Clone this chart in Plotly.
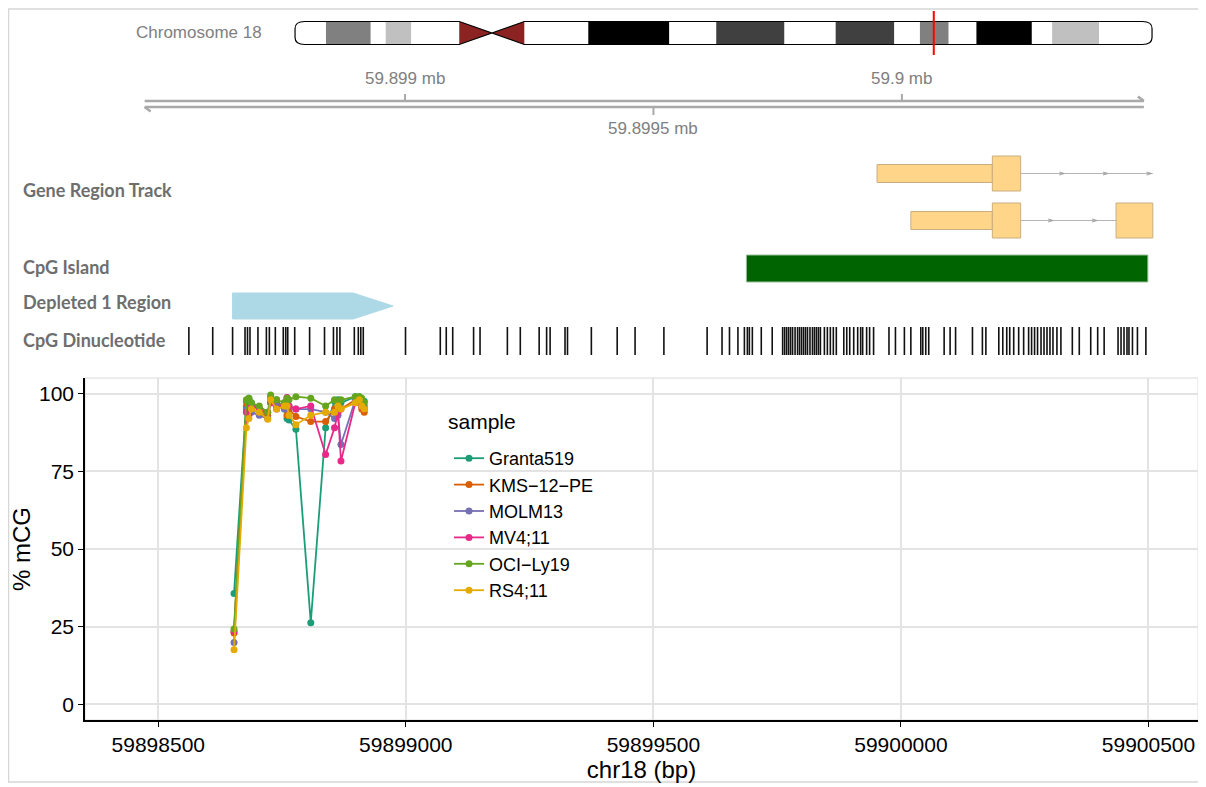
import plotly.graph_objects as go

# ---------------- methylation data ----------------
samples = ["Granta519", "KMS\u221212\u2212PE", "MOLM13", "MV4;11", "OCI\u2212Ly19", "RS4;11"]
sample_colors = ["#1B9E77", "#D95F02", "#7570B3", "#E7298A", "#66A61E", "#E6AB02"]

cpg_sites = [59898653, 59898678, 59898683, 59898688, 59898704, 59898721, 59898727,
             59898739, 59898755, 59898760, 59898764, 59898778, 59898808, 59898838,
             59898856, 59898863, 59898869, 59898898, 59898906, 59898911, 59898916]

granta519 = [35.7, 97.5, 98.5, 97.0, 95.0, 93.0, 99.0, 98.0, 95.0, 92.0, 91.5, 88.5, 26.3, 89.0,
             97.5, 98.0, 97.0, 99.0, 99.0, 98.0, 97.5]
kms12pe = [23.0, 96.0, 97.0, 95.0, 94.0, 92.5, 98.0, 96.0, 97.0, 93.0, 95.0, 92.6, 91.0, 91.0,
           95.0, 96.0, 95.0, 98.0, 97.0, 95.0, 94.0]
molm13 = [19.9, 95.0, 96.0, 94.0, 93.0, 92.0, 97.0, 96.0, 95.0, 97.0, 96.0, 95.0, 95.0, 94.0,
          92.0, 93.0, 83.6, 98.0, 97.0, 96.0, 96.0]
mv411 = [23.5, 94.0, 93.0, 96.0, 95.0, 94.0, 97.0, 95.0, 97.0, 98.7, 96.0, 95.0, 96.0, 80.4,
         89.0, 94.0, 78.3, 97.0, 98.0, 96.0, 95.0]
ocily19 = [24.3, 98.0, 98.5, 97.0, 96.0, 94.0, 99.5, 98.0, 97.0, 98.5, 98.0, 99.0, 98.5, 96.0,
           98.0, 97.0, 98.0, 99.0, 99.0, 98.5, 97.0]
rs411 = [17.6, 89.0, 92.0, 95.0, 94.0, 91.7, 98.0, 95.0, 96.0, 96.0, 93.0, 90.0, 93.0, 94.0,
         94.0, 96.0, 95.0, 97.0, 98.0, 96.0, 95.0]
series_values = [granta519, kms12pe, molm13, mv411, ocily19, rs411]

x_ticks = [59898500, 59899000, 59899500, 59900000, 59900500]
y_ticks = [0, 25, 50, 75, 100]

# ---------------- track data ----------------
gviz_axis_span = [59898476, 59900487]
gviz_ticks = [59899000, 59899500, 59900000]
gviz_tick_labels = ["59.899 mb", "59.8995 mb", "59.9 mb"]

tx1_exon_start = [59899950, 59900182]
tx1_exon_end = [59900182, 59900239]
tx1_exon_kind = ["utr", "cds"]
tx1_span = [59899950, 59900505]
tx2_exon_start = [59900018, 59900182, 59900431]
tx2_exon_end = [59900182, 59900239, 59900505]
tx2_exon_kind = ["utr", "cds", "cds"]
tx2_span = [59900018, 59900505]

cpg_island = [59899687, 59900495]
depleted_region = [59898653, 59898976]

cpg_dinucleotides = [
    59898565, 59898613, 59898653, 59898678, 59898683, 59898688, 59898704, 59898721,
    59898727, 59898739, 59898755, 59898760, 59898764, 59898778, 59898808, 59898838,
    59898856, 59898863, 59898869, 59898898, 59898906, 59898911, 59898916, 59899001,
    59899071, 59899083, 59899096, 59899138, 59899151, 59899206, 59899232, 59899270,
    59899285, 59899292, 59899322, 59899327, 59899375, 59899427, 59899463, 59899521,
    59899608, 59899638, 59899653, 59899670, 59899683, 59899689, 59899693, 59899699,
    59899717, 59899739, 59899760, 59899764, 59899768, 59899772, 59899776, 59899780,
    59899785, 59899790, 59899794, 59899798, 59899802, 59899806, 59899810, 59899815,
    59899820, 59899824, 59899828, 59899832, 59899836, 59899844, 59899850, 59899856,
    59899862, 59899868, 59899883, 59899889, 59899895, 59899903, 59899911, 59899917,
    59899921, 59899929, 59899935, 59899943, 59899974, 59899987, 59900005, 59900018,
    59900038, 59900042, 59900048, 59900054, 59900085, 59900097, 59900108, 59900142,
    59900162, 59900169, 59900195, 59900203, 59900211, 59900217, 59900225, 59900235,
    59900245, 59900255, 59900261, 59900267, 59900273, 59900280, 59900286, 59900292,
    59900298, 59900304, 59900312, 59900320, 59900343, 59900357, 59900380, 59900394,
    59900407, 59900435, 59900441, 59900447, 59900453, 59900457, 59900464, 59900474,
    59900491]

band_start = [0.0, 2.9, 7.1, 8.5, 10.9, 15.4, 18.5, 21.5, 27.5, 35.1, 39.5, 45.9, 50.7,
              56.2, 58.6, 61.3, 63.9, 69.1, 71.0, 75.4]
band_end = [2.9, 7.1, 8.5, 10.9, 15.4, 18.5, 21.5, 27.5, 35.1, 39.5, 45.9, 50.7, 56.2,
            58.6, 61.3, 63.9, 69.1, 71.0, 75.4, 80.37]
band_stain = ["gneg", "gpos50", "gneg", "gpos25", "gneg", "acen", "acen", "gneg", "gpos100",
              "gneg", "gpos75", "gneg", "gpos75", "gneg", "gpos50", "gneg", "gpos100", "gneg",
              "gpos25", "gneg"]
chrom_length = 80.37
current_region_mb = 59.9

stain_colors = {"gneg": "#FFFFFF", "gpos25": "#C0C0C0", "gpos50": "#808080",
                "gpos75": "#404040", "gpos100": "#000000", "acen": "#8B2323"}

# page is offset by the 8px body margin; figure covers page px 8..1206 / 8..787
OFF = 8
W, H = 1206 - OFF, 787 - OFF
FONT = "Liberation Sans, Arial, sans-serif"
LABEL_FONT = "Lato, Open Sans, sans-serif"


def px(xp):
    return (xp - OFF) / W


def py(yp):
    return 1 - (yp - OFF) / H


fig = go.Figure()

for name, col, vals in zip(samples, sample_colors, series_values):
    fig.add_trace(go.Scatter(
        x=cpg_sites, y=vals, name=name, mode="lines+markers",
        line=dict(color=col, width=1.8), marker=dict(color=col, size=7),
        xaxis="x", yaxis="y"))

shapes = []
annotations = []

# Gviz genome axis
ax0, ax1 = gviz_axis_span
for yy in (101, 107):
    fig.add_trace(go.Scatter(x=[ax0, ax1], y=[yy, yy], mode="lines",
                             line=dict(color="#A9A9A9", width=2.5),
                             xaxis="x2", yaxis="y2", showlegend=False, hoverinfo="skip"))
barb = (ax1 - ax0) * 0.006
fig.add_trace(go.Scatter(x=[ax1 - barb, ax1, None, ax0, ax0 + barb],
                         y=[96.5, 101, None, 107, 111.5], mode="lines",
                         line=dict(color="#A9A9A9", width=2.5),
                         xaxis="x2", yaxis="y2", showlegend=False, hoverinfo="skip"))
tx, ty = [], []
for i, t in enumerate(gviz_ticks):
    if i == 1:
        tx += [t, t, None]
        ty += [107, 115, None]
        annotations.append(dict(x=t, y=128, xref="x2", yref="y2", text=gviz_tick_labels[i],
                                showarrow=False, font=dict(size=17, color="#808080", family=FONT)))
    else:
        tx += [t, t, None]
        ty += [94, 101, None]
        annotations.append(dict(x=t, y=78, xref="x2", yref="y2", text=gviz_tick_labels[i],
                                showarrow=False, font=dict(size=17, color="#808080", family=FONT)))
fig.add_trace(go.Scatter(x=tx, y=ty, mode="lines", line=dict(color="#A9A9A9", width=2),
                         xaxis="x2", yaxis="y2", showlegend=False, hoverinfo="skip"))

# Gene region track
gene_fill = "#FFD58A"
gene_line = "#C9AE80"


def draw_transcript(starts, ends, kinds, span, yc, chevron_fracs):
    shapes.append(dict(type="line", xref="x2", yref="y2", x0=span[0], x1=span[1], y0=yc, y1=yc,
                       line=dict(color="#B5B5B5", width=1), layer="below"))
    intr_start = ends[1]
    intr_end = starts[2] if len(starts) > 2 else span[1]
    chev_x, chev_y = [], []
    for f in chevron_fracs:
        cx = intr_start + (intr_end - intr_start) * f
        chev_x += [cx - 10, cx, cx - 10, None]
        chev_y += [yc - 1.5, yc, yc + 1.5, None]
    fig.add_trace(go.Scatter(x=chev_x, y=chev_y, mode="lines", line=dict(color="#A0A0A0", width=1),
                             xaxis="x2", yaxis="y2", showlegend=False, hoverinfo="skip"))
    for s, e, k in sorted(zip(starts, ends, kinds), key=lambda z: z[2] == "cds"):
        half = 9 if k == "utr" else 17.5
        shapes.append(dict(type="rect", xref="x2", yref="y2", x0=s, x1=e, y0=yc - half, y1=yc + half,
                           fillcolor=gene_fill, line=dict(color=gene_line, width=1)))


draw_transcript(tx1_exon_start, tx1_exon_end, tx1_exon_kind, tx1_span, 173.5, [0.33, 0.66, 0.99])
draw_transcript(tx2_exon_start, tx2_exon_end, tx2_exon_kind, tx2_span, 220.5, [0.34, 0.8])

shapes.append(dict(type="rect", xref="x2", yref="y2", x0=cpg_island[0], x1=cpg_island[1],
                   y0=255, y1=282, fillcolor="#006400", line=dict(color="#9DBF9D", width=1)))

d0, d1 = depleted_region
head = (d1 - d0) * 0.25
fig.add_trace(go.Scatter(x=[d0, d1 - head, d1, d1 - head, d0, d0],
                         y=[293, 293, 306, 319, 319, 293], mode="lines", fill="toself",
                         fillcolor="#ADD8E6", line=dict(color="#ADD8E6", width=1),
                         xaxis="x2", yaxis="y2", showlegend=False, hoverinfo="skip"))

dx, dy = [], []
for p in cpg_dinucleotides:
    dx += [p, p, None]
    dy += [327, 355, None]
fig.add_trace(go.Scatter(x=dx, y=dy, mode="lines", line=dict(color="#111111", width=1.6),
                         xaxis="x2", yaxis="y2", showlegend=False, hoverinfo="skip"))

for txt, yy in [("Gene Region Track", 190), ("CpG Island", 267), ("Depleted 1 Region", 302),
                ("CpG Dinucleotide", 340)]:
    annotations.append(dict(x=px(21), y=yy, xref="paper", yref="y2", text="<b>" + txt + "</b>",
                            showarrow=False, xanchor="left",
                            font=dict(size=18, color="#6E6E6E", family=LABEL_FONT)))

# ideogram
y_top, y_bot = 21.5, 44.5
for s, e, st in zip(band_start, band_end, band_stain):
    if st == "acen":
        continue
    shapes.append(dict(type="rect", xref="x3", yref="y2", x0=s, x1=e, y0=y_top, y1=y_bot,
                       fillcolor=stain_colors[st], line=dict(width=0)))
acen = [(s, e) for s, e, st in zip(band_start, band_end, band_stain) if st == "acen"]
cs, cm, ce = acen[0][0], acen[0][1], acen[1][1]
ymid = (y_top + y_bot) / 2
shapes.append(dict(type="path", xref="x3", yref="y2",
                   path=f"M {cs},{y_top} L {cm},{ymid} L {cs},{y_bot} Z",
                   fillcolor=stain_colors["acen"], line=dict(width=0)))
shapes.append(dict(type="path", xref="x3", yref="y2",
                   path=f"M {ce},{y_top} L {cm},{ymid} L {ce},{y_bot} Z",
                   fillcolor=stain_colors["acen"], line=dict(width=0)))
r = 0.9
ry = 7
outline = (f"M {cs},{y_top} L {r},{y_top} Q 0,{y_top} 0,{y_top + ry} L 0,{y_bot - ry} "
           f"Q 0,{y_bot} {r},{y_bot} L {cs},{y_bot} L {ce},{y_top} "
           f"L {chrom_length - r},{y_top} Q {chrom_length},{y_top} {chrom_length},{y_top + ry} "
           f"L {chrom_length},{y_bot - ry} Q {chrom_length},{y_bot} {chrom_length - r},{y_bot} "
           f"L {ce},{y_bot} L {cs},{y_top}")
shapes.append(dict(type="path", xref="x3", yref="y2", path=outline,
                   line=dict(color="#000000", width=1.2)))
shapes.append(dict(type="line", xref="x3", yref="y2", x0=current_region_mb, x1=current_region_mb,
                   y0=11, y1=55, line=dict(color="#FF0000", width=2)))
annotations.append(dict(x=px(264), y=32, xref="paper", yref="y2", text="Chromosome 18",
                        showarrow=False, xanchor="right",
                        font=dict(size=17, color="#808080", family=FONT)))

# legend title as text
annotations.append(dict(x=px(446), y=py(422), xref="paper", yref="paper", text="sample",
                        showarrow=False, xanchor="left", yanchor="middle",
                        font=dict(size=21, color="black", family=FONT)))

# outer frame and panel border
shapes.append(dict(type="rect", xref="paper", yref="paper", x0=px(8.5), x1=px(1199),
                   y0=py(782), y1=py(9), line=dict(color="#D6D6D6", width=1.5), layer="below"))
shapes.append(dict(type="rect", xref="x domain", yref="y domain", x0=0, x1=1, y0=0, y1=1,
                   line=dict(color="#DADADA", width=1), layer="below"))

fig.update_layout(
    width=W, height=H, margin=dict(l=0, r=0, t=0, b=0),
    paper_bgcolor="white", plot_bgcolor="rgba(0,0,0,0)",
    font=dict(family=FONT, color="black"),
    shapes=shapes, annotations=annotations,
    xaxis=dict(domain=[px(85), px(1198)], range=[59898352, 59900600], anchor="y",
               tickvals=x_ticks, ticktext=[str(v) for v in x_ticks],
               showgrid=True, gridcolor="#E3E3E3", gridwidth=1.5, zeroline=False,
               showline=True, linecolor="black", linewidth=1.5,
               ticks="outside", ticklen=5, tickcolor="black", tickwidth=1.2,
               tickfont=dict(size=21, color="black"),
               title=dict(text="chr18 (bp)", font=dict(size=24, color="black"), standoff=4)),
    yaxis=dict(domain=[py(720), py(378)], range=[-5, 105], anchor="x",
               tickvals=y_ticks, showgrid=True, gridcolor="#E3E3E3", gridwidth=1.5,
               zeroline=False, showline=True, linecolor="black", linewidth=1.5,
               ticks="outside", ticklen=5, tickcolor="black", tickwidth=1.2,
               tickfont=dict(size=21, color="black"),
               title=dict(text="% mCG", font=dict(size=24, color="black"), standoff=6)),
    xaxis2=dict(domain=[0, 1], range=[59898201, 59900612], anchor="y2", visible=False),
    yaxis2=dict(domain=[0, 1], range=[787, OFF], anchor="x2", visible=False),
    xaxis3=dict(domain=[0, 1], range=[-26.92, 85.43], anchor="y2", visible=False,
                overlaying="x2"),
    legend=dict(x=px(449), y=py(440), xanchor="left", yanchor="top",
                bgcolor="rgba(0,0,0,0)", font=dict(size=18, color="black"),
                itemwidth=30, tracegroupgap=0),
)

fig.write_html("out.html")
